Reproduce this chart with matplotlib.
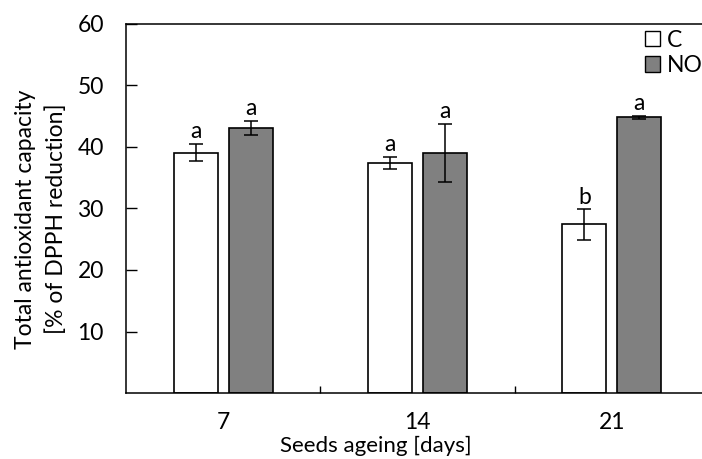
import numpy as np
import matplotlib
matplotlib.use("Agg")
import matplotlib.pyplot as plt
from matplotlib.patches import Patch

days = ["7", "14", "21"]
c_vals = [39.1, 37.4, 27.4]
c_err = [1.45, 0.95, 2.45]
no_vals = [43.1, 39.0, 44.8]
no_err = [1.2, 4.75, 0.3]
c_letters = ["a", "a", "b"]
no_letters = ["a", "a", "a"]

plt.rcParams['font.family'] = ['Lato', 'DejaVu Sans']
FS = 16.5

fig = plt.figure(figsize=(7.02, 4.59), dpi=100)
# axes box in pixels: left 126, right 709 (just off the picture), top 24, bottom 393
ax = fig.add_axes([126 / 702, 1 - 393 / 459, (709 - 126) / 702, (393 - 24) / 459])

x = np.arange(len(days))
w = 0.225
off = 0.1415
ekw = dict(elinewidth=1.1, capthick=1.1, ecolor='black')
ax.bar(x - off, c_vals, w, yerr=c_err, color='white', edgecolor='black',
       linewidth=1.2, capsize=5, error_kw=ekw)
ax.bar(x + off, no_vals, w, yerr=no_err, color='#808080', edgecolor='black',
       linewidth=1.2, capsize=5, error_kw=ekw)

for i in range(len(days)):
    ax.text(x[i] - off, c_vals[i] + c_err[i] + 0.3, c_letters[i], ha='center',
            va='bottom', fontsize=FS)
    ax.text(x[i] + off, no_vals[i] + no_err[i] + 0.3, no_letters[i], ha='center',
            va='bottom', fontsize=FS)

ax.set_xlim(-0.5, 2.5)
ax.set_ylim(0, 60)
ax.set_yticks([10, 20, 30, 40, 50, 60])
ax.tick_params(axis='y', direction='in', length=8, width=1, pad=16, labelsize=FS)
ax.set_xticks(x)
ax.set_xticklabels(days)
ax.set_xticks([0.5, 1.5], minor=True)
ax.tick_params(axis='x', which='major', length=0, pad=14, labelsize=FS)
ax.tick_params(axis='x', which='minor', direction='in', length=5, width=1)
for s in ax.spines.values():
    s.set_linewidth(1.1)

fig.text(41 / 702, 1 - 219 / 459, "Total antioxidant capacity\n[% of DPPH reduction]",
         rotation=90, ha='center', va='center', multialignment='center',
         fontsize=FS, linespacing=1.5)
fig.text(376 / 702, 1 - 436 / 459, "Seeds ageing [days]", ha='center', va='top',
         fontsize=16)

handles = [Patch(facecolor='white', edgecolor='black', label='C'),
           Patch(facecolor='#808080', edgecolor='black', label='NO')]
ax.legend(handles=handles, loc='upper left', bbox_to_anchor=(0.89, 0.985),
          frameon=False, fontsize=FS, handlelength=0.65, handleheight=0.65,
          handletextpad=0.3, labelspacing=0.2, borderaxespad=0, borderpad=0)

fig.savefig("out.png", dpi=100)
